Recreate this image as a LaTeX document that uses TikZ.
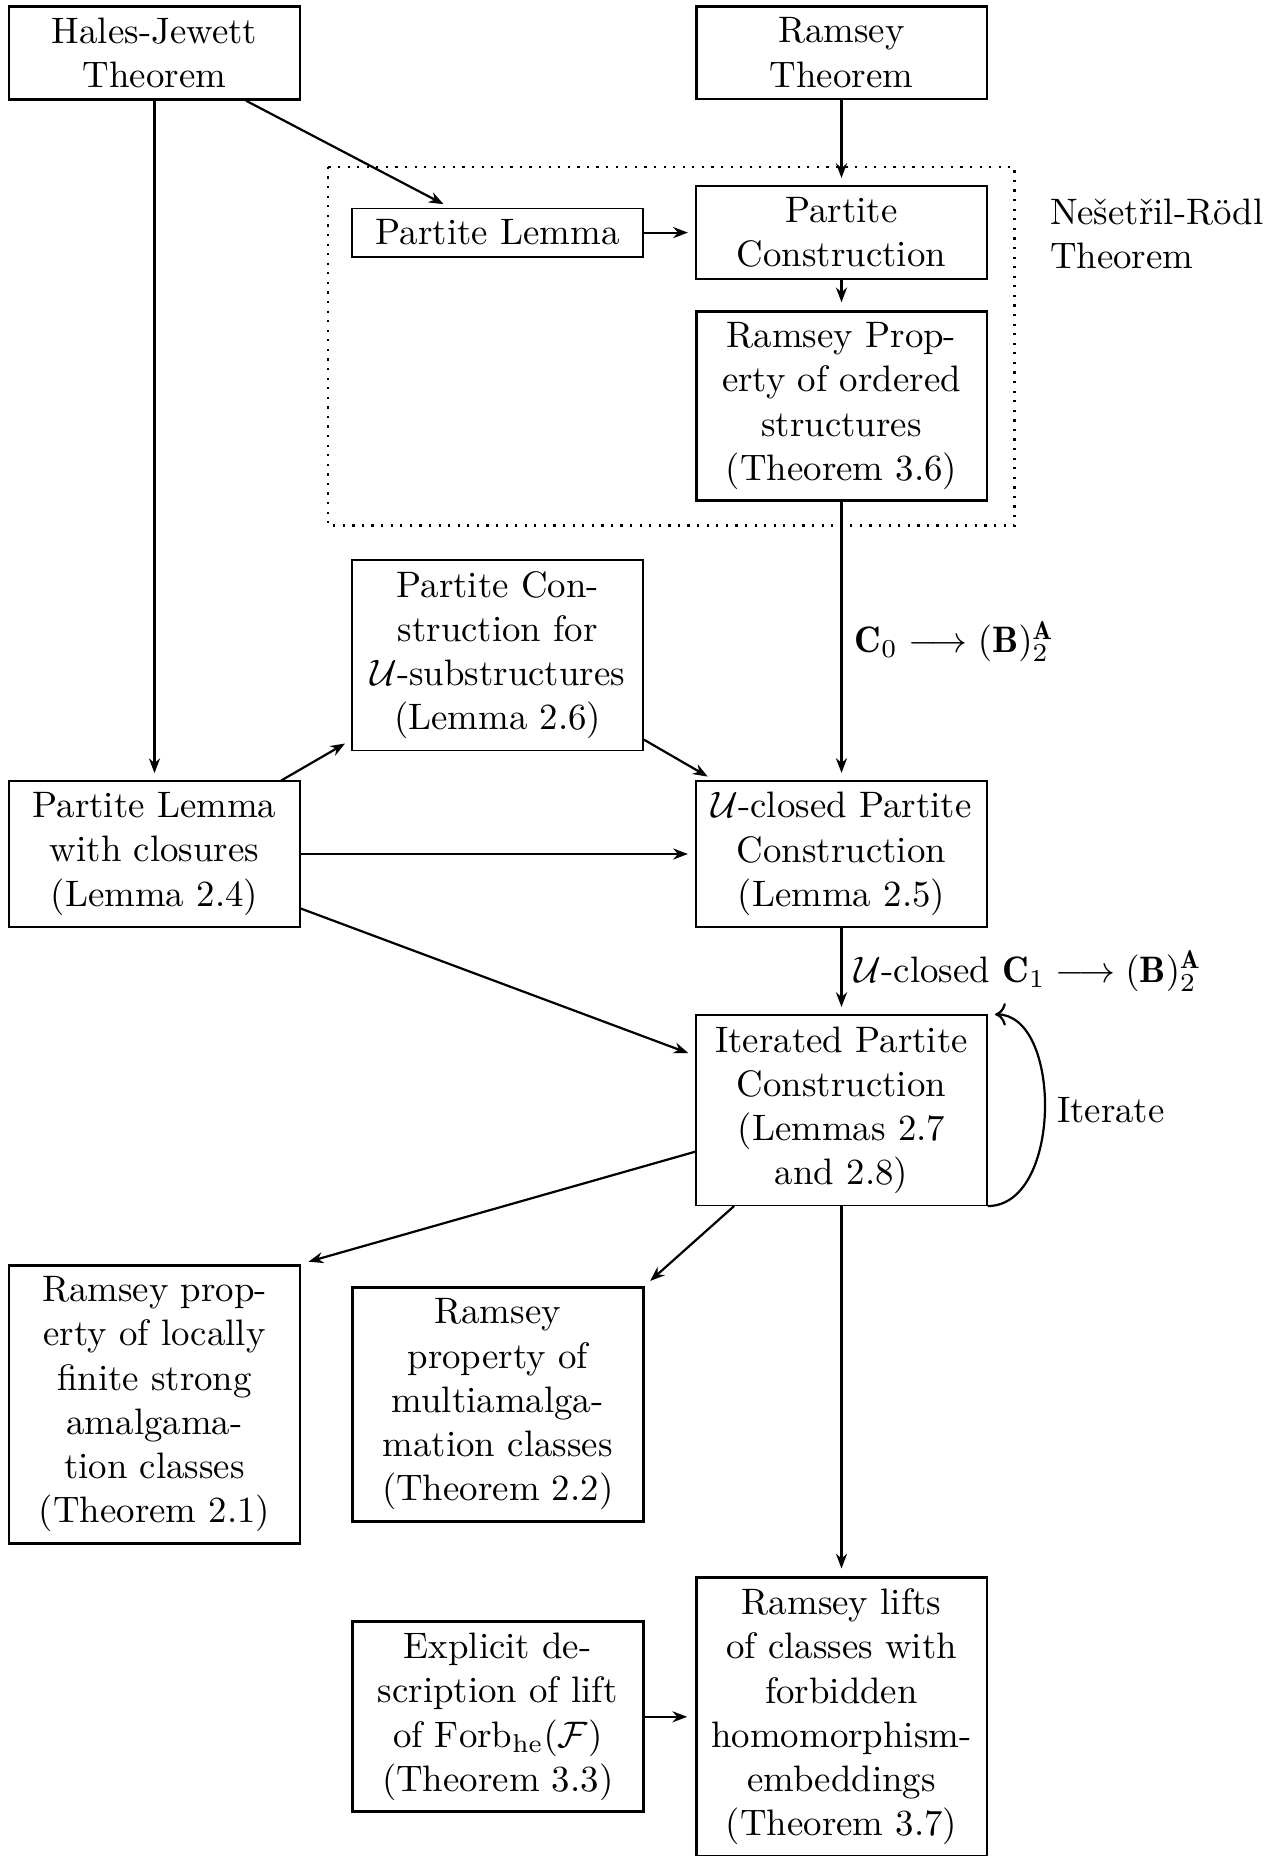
\documentclass[tikz,border=0pt]{standalone}
\usepackage{fontspec}
\usetikzlibrary{arrows.meta}
\tikzset{
  box/.style={draw, rectangle, text width=73pt, align=center, inner xsep=3pt, inner ysep=3.1pt},
  tbox/.style={box, thick},
  arr/.style={semithick, -{Stealth[length=4pt,width=3pt]}, shorten >=2pt},
  loopar/.style={semithick, ->, shorten >=2pt},
}
\begin{document}
\begin{tikzpicture}[x=0.27152pt,y=-0.27152pt]
\useasboundingbox (0,0) rectangle (1270,1856);
\node[tbox] (hj) at (154.5,52.7) {Hales-Jewett\\Theorem};
\node[tbox] (rt) at (841.5,52.7) {Ramsey\\Theorem};
\node[box] (pl) at (497.7,232.6) {Partite Lemma};
\node[box] (pc) at (841.5,232.6) {Partite\\Construction};
\node[tbox] (rp) at (841.5,406.0) {Ramsey Prop-\\erty of ordered\\structures\\(Theorem 3.6)};
\node[box] (pcu) at (497.7,655.1) {Partite Con-\\struction for\\$\mathcal{U}$-substructures\\(Lemma 2.6)};
\node[box] (plc) at (154.5,854.0) {Partite Lemma\\with closures\\(Lemma 2.4)};
\node[box] (uc) at (841.5,854.0) {$\mathcal{U}$-closed Partite\\Construction\\(Lemma 2.5)};
\node[box] (it) at (841.5,1110.2) {Iterated Partite\\Construction\\(Lemmas 2.7\\and 2.8)};
\node[tbox] (rpl) at (154.5,1404.3) {Ramsey prop-\\erty of locally\\finite strong\\amalgama-\\tion classes\\(Theorem 2.1)};
\node[tbox] (mm) at (497.7,1404.3) {Ramsey\\property of\\multiamalga-\\mation classes\\(Theorem 2.2)};
\node[tbox] (ex) at (497.7,1716.8) {Explicit de-\\scription of lift\\of $\mathrm{Forb}_{\mathrm{he}}(\mathcal{F})$\\(Theorem 3.3)};
\node[tbox] (rl) at (841.5,1716.8) {Ramsey lifts\\of classes with\\forbidden\\homomorphism-\\embeddings\\(Theorem 3.7)};
\node[anchor=west, align=left] (nr) at (1037,233.8) {Nešetřil-Rödl\\Theorem};
\draw[semithick, dotted] (327.9,166.9) rectangle (1014.4,525.5);
\draw[arr] (hj) -- (pl);
\draw[arr] (hj) -- (plc);
\draw[arr] (rt) -- (pc);
\draw[arr] (pl) -- (pc);
\draw[arr] (pc) -- (rp);
\draw[arr] (rp) -- node[right] {$\mathbf{C}_0 \longrightarrow (\mathbf{B})^{\mathbf{A}}_2$} (uc);
\draw[arr] (plc) -- (pcu);
\draw[arr] (pcu) -- (uc);
\draw[arr] (plc) -- (uc);
\draw[arr] (plc) -- (it);
\draw[arr] (uc) -- node[right] {$\mathcal{U}$-closed $\mathbf{C}_1 \longrightarrow (\mathbf{B})^{\mathbf{A}}_2$} (it);
\draw[loopar] (it.south east) to[out=0, in=0] node[right] {Iterate} (it.north east);
\draw[arr] (it) -- (rpl.north east);
\draw[arr] (it) -- (mm.north east);
\draw[arr] (it) -- (rl);
\draw[arr] (ex) -- (rl);
\end{tikzpicture}
\end{document}
